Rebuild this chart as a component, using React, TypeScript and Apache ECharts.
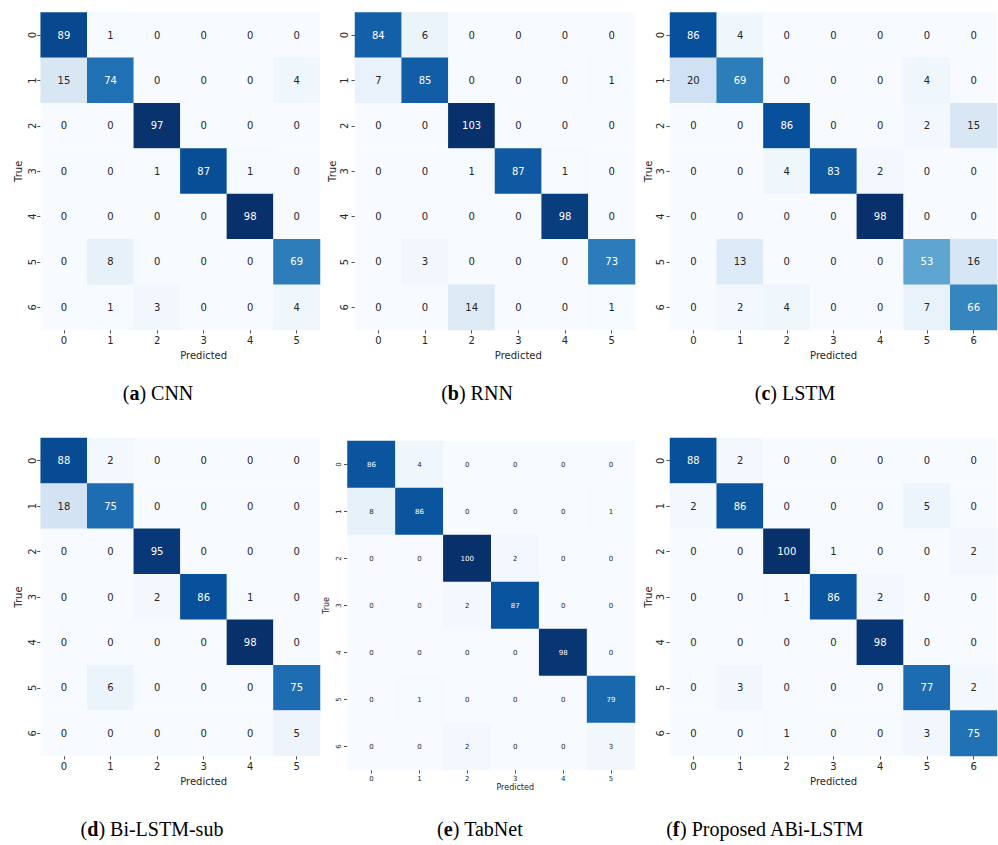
import React, { useEffect, useRef } from "react";
import * as echarts from "echarts";

const classLabels7 = ["0", "1", "2", "3", "4", "5", "6"];
const predLabels6 = ["0", "1", "2", "3", "4", "5"];

const cnnMatrix = [
  [89, 1, 0, 0, 0, 0],
  [15, 74, 0, 0, 0, 4],
  [0, 0, 97, 0, 0, 0],
  [0, 0, 1, 87, 1, 0],
  [0, 0, 0, 0, 98, 0],
  [0, 8, 0, 0, 0, 69],
  [0, 1, 3, 0, 0, 4],
];

const rnnMatrix = [
  [84, 6, 0, 0, 0, 0],
  [7, 85, 0, 0, 0, 1],
  [0, 0, 103, 0, 0, 0],
  [0, 0, 1, 87, 1, 0],
  [0, 0, 0, 0, 98, 0],
  [0, 3, 0, 0, 0, 73],
  [0, 0, 14, 0, 0, 1],
];

const lstmMatrix = [
  [86, 4, 0, 0, 0, 0, 0],
  [20, 69, 0, 0, 0, 4, 0],
  [0, 0, 86, 0, 0, 2, 15],
  [0, 0, 4, 83, 2, 0, 0],
  [0, 0, 0, 0, 98, 0, 0],
  [0, 13, 0, 0, 0, 53, 16],
  [0, 2, 4, 0, 0, 7, 66],
];

const biLstmSubMatrix = [
  [88, 2, 0, 0, 0, 0],
  [18, 75, 0, 0, 0, 0],
  [0, 0, 95, 0, 0, 0],
  [0, 0, 2, 86, 1, 0],
  [0, 0, 0, 0, 98, 0],
  [0, 6, 0, 0, 0, 75],
  [0, 0, 0, 0, 0, 5],
];

const tabNetMatrix = [
  [86, 4, 0, 0, 0, 0],
  [8, 86, 0, 0, 0, 1],
  [0, 0, 100, 2, 0, 0],
  [0, 0, 2, 87, 0, 0],
  [0, 0, 0, 0, 98, 0],
  [0, 1, 0, 0, 0, 79],
  [0, 0, 2, 0, 0, 3],
];

const proposedMatrix = [
  [88, 2, 0, 0, 0, 0, 0],
  [2, 86, 0, 0, 0, 5, 0],
  [0, 0, 100, 1, 0, 0, 2],
  [0, 0, 1, 86, 2, 0, 0],
  [0, 0, 0, 0, 98, 0, 0],
  [0, 3, 0, 0, 0, 77, 2],
  [0, 0, 1, 0, 0, 3, 75],
];

const captionLetters = ["a", "b", "c", "d", "e", "f"];
const captionNames = ["CNN", "RNN", "LSTM", "Bi-LSTM-sub", "TabNet", "Proposed ABi-LSTM"];

const BLUES = [
  "#f7fbff", "#deebf7", "#c6dbef", "#9ecae1", "#6baed6",
  "#4292c6", "#2171b5", "#08519c", "#08306b",
];

function hexToRgb(h: string) {
  const n = parseInt(h.slice(1), 16);
  return [(n >> 16) & 255, (n >> 8) & 255, n & 255];
}

function bluesAt(t: number) {
  const tt = Math.max(0, Math.min(1, t));
  const pos = tt * (BLUES.length - 1);
  const i = Math.min(BLUES.length - 2, Math.floor(pos));
  const f = pos - i;
  const a = hexToRgb(BLUES[i]);
  const b = hexToRgb(BLUES[i + 1]);
  return a.map((v, k) => v + (b[k] - v) * f);
}

function textColorFor(t: number) {
  const rgb = bluesAt(t).map((v) => {
    const c = v / 255;
    return c <= 0.03928 ? c / 12.92 : Math.pow((c + 0.055) / 1.055, 2.4);
  });
  const lum = 0.2126 * rgb[0] + 0.7152 * rgb[1] + 0.0722 * rgb[2];
  return lum > 0.408 ? "#262626" : "#ffffff";
}

type Panel = {
  matrix: number[][];
  left: number;
  top: number;
  width: number;
  height: number;
  font: number;
  titleFont: number;
  yMargin: number;
  xMargin: number;
  nameGapX: number;
  nameGapY: number;
  shiftPredicted: boolean;
};

const panels: Panel[] = [
  { matrix: cnnMatrix, left: 40.7, top: 12.5, width: 279.3, height: 317.5, font: 10, titleFont: 10, yMargin: 3, xMargin: 5, nameGapX: 20, nameGapY: 17, shiftPredicted: true },
  { matrix: rnnMatrix, left: 355, top: 12.5, width: 280, height: 317.5, font: 10, titleFont: 10, yMargin: 6, xMargin: 5, nameGapX: 20, nameGapY: 18, shiftPredicted: true },
  { matrix: lstmMatrix, left: 670, top: 12.5, width: 327, height: 317.5, font: 10, titleFont: 10, yMargin: 4.5, xMargin: 5, nameGapX: 20, nameGapY: 17, shiftPredicted: false },
  { matrix: biLstmSubMatrix, left: 40.7, top: 438, width: 279.3, height: 318, font: 10, titleFont: 10, yMargin: 3, xMargin: 5, nameGapX: 20, nameGapY: 17, shiftPredicted: true },
  { matrix: tabNetMatrix, left: 347.5, top: 441, width: 287.5, height: 329, font: 7, titleFont: 8, yMargin: 5, xMargin: 5, nameGapX: 13, nameGapY: 17, shiftPredicted: true },
  { matrix: proposedMatrix, left: 670, top: 438, width: 327, height: 318, font: 10, titleFont: 10, yMargin: 4.5, xMargin: 5, nameGapX: 20, nameGapY: 17, shiftPredicted: false },
];

const captionPos = [
  { x: 158, y: 393 },
  { x: 477, y: 393 },
  { x: 795, y: 393 },
  { x: 152, y: 829 },
  { x: 480, y: 829 },
  { x: 765, y: 829 },
];

export default function App() {
  const ref = useRef<HTMLDivElement>(null);

  useEffect(() => {
    if (!ref.current) return;
    const chart = echarts.init(ref.current, undefined, { renderer: "svg" });
    const FONT = "DejaVu Sans";
    const tickColor = "#262626";

    const grid: any[] = [];
    const xAxis: any[] = [];
    const yAxis: any[] = [];
    const series: any[] = [];
    const visualMap: any[] = [];

    panels.forEach((p, i) => {
      const nCols = p.matrix[0].length;
      const cellW = p.width / nCols;
      const maxV = Math.max(...p.matrix.flat());
      const minV = Math.min(...p.matrix.flat());
      grid.push({ left: p.left, top: p.top, width: p.width, height: p.height, containLabel: false });
      xAxis.push({
        type: "category",
        gridIndex: i,
        data: nCols === 7 ? classLabels7 : predLabels6,
        name: "Predicted",
        nameLocation: "middle",
        nameGap: p.nameGapX,
        nameTextStyle: {
          fontFamily: FONT,
          fontSize: p.titleFont,
          color: tickColor,
          padding: p.shiftPredicted ? [0, 0, 0, cellW] : 0,
        },
        axisLine: { show: false },
        axisTick: { show: true, alignWithLabel: true, length: 3.5, lineStyle: { color: tickColor, width: 0.8 } },
        axisLabel: { fontFamily: FONT, fontSize: p.font, color: tickColor, margin: p.xMargin },
        splitLine: { show: false },
        splitArea: { show: false },
      });
      yAxis.push({
        type: "category",
        gridIndex: i,
        inverse: true,
        data: classLabels7,
        name: "True",
        nameLocation: "middle",
        nameGap: p.nameGapY,
        nameRotate: 90,
        nameTextStyle: { fontFamily: FONT, fontSize: p.titleFont, color: tickColor },
        axisLine: { show: false },
        axisTick: { show: true, alignWithLabel: true, length: 3.5, lineStyle: { color: tickColor, width: 0.8 } },
        axisLabel: { fontFamily: FONT, fontSize: p.font, color: tickColor, rotate: 90, margin: p.yMargin },
        splitLine: { show: false },
        splitArea: { show: false },
      });
      const data: any[] = [];
      p.matrix.forEach((row, r) => {
        row.forEach((v, c) => {
          const t = (v - minV) / (maxV - minV);
          data.push({ value: [c, r, v], label: { color: textColorFor(t) } });
        });
      });
      series.push({
        type: "heatmap",
        xAxisIndex: i,
        yAxisIndex: i,
        data,
        label: { show: true, fontFamily: FONT, fontSize: p.font },
        itemStyle: { borderWidth: 0 },
        emphasis: { disabled: true },
      });
      visualMap.push({
        type: "continuous",
        show: false,
        seriesIndex: i,
        dimension: 2,
        min: minV,
        max: maxV,
        inRange: { color: BLUES },
      });
    });

    const graphic: any[] = captionPos.map((pos, i) => ({
      type: "text",
      x: pos.x,
      y: pos.y,
      style: {
        text: "({b|" + captionLetters[i] + "}) " + captionNames[i],
        fontFamily: "Liberation Serif",
        fontSize: 20,
        fill: "#000",
        textAlign: "center",
        textVerticalAlign: "middle",
        rich: {
          b: { fontFamily: "Liberation Serif", fontSize: 20, fontWeight: "bold", fill: "#000" },
        },
      },
    }));

    chart.setOption({
      animation: false,
      backgroundColor: "#ffffff",
      grid,
      xAxis,
      yAxis,
      visualMap,
      series,
      graphic,
    });

    return () => chart.dispose();
  }, []);

  return (
    <div
      ref={ref}
      style={{ position: "absolute", left: 0, top: 0, width: 998, height: 845 }}
    />
  );
}
